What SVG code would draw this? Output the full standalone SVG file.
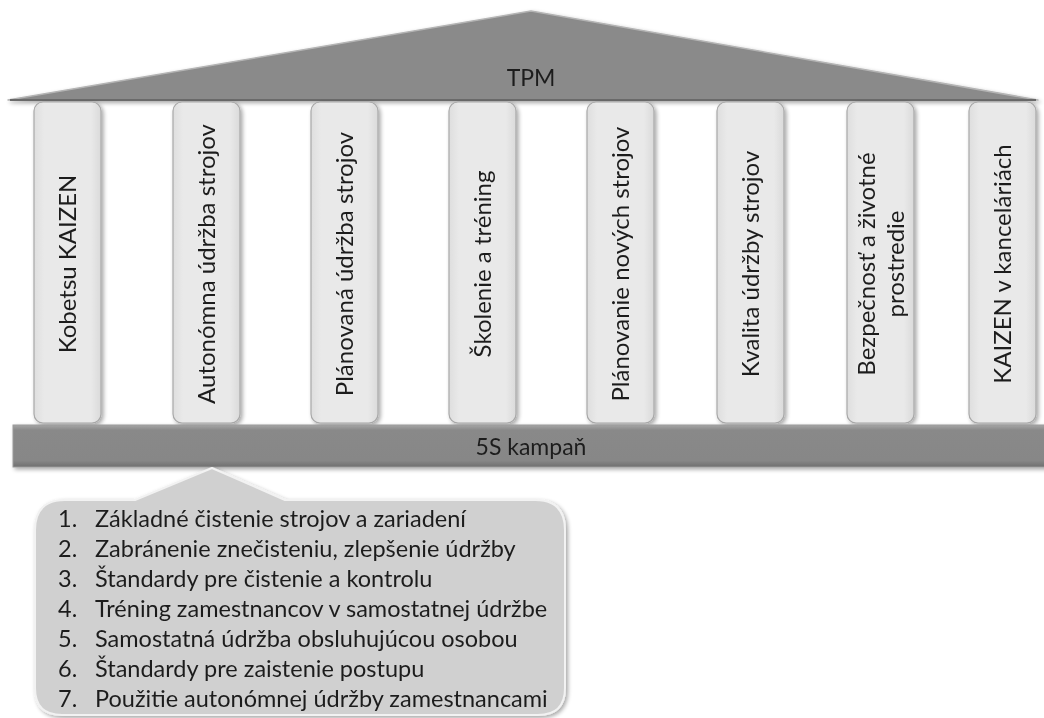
<svg xmlns="http://www.w3.org/2000/svg" width="1044" height="718" viewBox="0 0 1044 718">
  <defs>
    <filter id="shadow" x="-10%" y="-10%" width="130%" height="130%">
      <feGaussianBlur in="SourceAlpha" stdDeviation="2"/>
      <feOffset dx="1.5" dy="2" result="b"/>
      <feComponentTransfer><feFuncA type="linear" slope="0.35"/></feComponentTransfer>
      <feMerge><feMergeNode/><feMergeNode in="SourceGraphic"/></feMerge>
    </filter>
    <linearGradient id="pillarFill" x1="0" y1="0" x2="1" y2="0">
      <stop offset="0" stop-color="#dedede"/>
      <stop offset="0.15" stop-color="#e9e9e9"/>
      <stop offset="0.85" stop-color="#e9e9e9"/>
      <stop offset="1" stop-color="#dadada"/>
    </linearGradient>
    <linearGradient id="barFill" x1="0" y1="0" x2="0" y2="1">
      <stop offset="0" stop-color="#a6a6a6"/>
      <stop offset="0.12" stop-color="#898989"/>
      <stop offset="0.85" stop-color="#878787"/>
      <stop offset="1" stop-color="#6f6f6f"/>
    </linearGradient>
  </defs>
  <style>
    .pillar { fill: url(#pillarFill); stroke: #a8a8a8; stroke-width: 1.2; }
    .ptext { font-family: Lato, "Liberation Sans", sans-serif; font-size: 24px; fill: #1e1e1e; text-anchor: middle; }
    .label { font-family: Lato, "Liberation Sans", sans-serif; font-size: 23px; fill: #1e1e1e; text-anchor: middle; }
    .item { font-family: Lato, "Liberation Sans", sans-serif; font-size: 23.5px; fill: #1e1e1e; }
  </style>

  <rect width="1044" height="718" fill="#ffffff"/>

  <!-- roof -->
  <g id="roof" filter="url(#shadow)">
    <polygon points="8,100 531,11 1038,100" fill="#8a8a8a" stroke="#b4b4b4" stroke-width="1.5" stroke-linejoin="round"/>
    <line x1="10" y1="100" x2="1036" y2="100" stroke="#6a6a6a" stroke-width="2"/>
    <text class="label" x="531" y="86">TPM</text>
  </g>

  <!-- pillars -->
  <g id="pillar-1" filter="url(#shadow)">
    <rect class="pillar" x="34" y="102" width="67" height="321" rx="9"/>
    <text class="ptext" transform="translate(76,264) rotate(-90)">Kobetsu KAIZEN</text>
  </g>
  <g id="pillar-2" filter="url(#shadow)">
    <rect class="pillar" x="173" y="102" width="67" height="321" rx="9"/>
    <text class="ptext" transform="translate(215,264) rotate(-90)">Autonómna údržba strojov</text>
  </g>
  <g id="pillar-3" filter="url(#shadow)">
    <rect class="pillar" x="311" y="102" width="67" height="321" rx="9"/>
    <text class="ptext" transform="translate(353,264) rotate(-90)">Plánovaná údržba strojov</text>
  </g>
  <g id="pillar-4" filter="url(#shadow)">
    <rect class="pillar" x="449" y="102" width="67" height="321" rx="9"/>
    <text class="ptext" transform="translate(491,264) rotate(-90)">Školenie a tréning</text>
  </g>
  <g id="pillar-5" filter="url(#shadow)">
    <rect class="pillar" x="587" y="102" width="67" height="321" rx="9"/>
    <text class="ptext" transform="translate(629,264) rotate(-90)">Plánovanie nových strojov</text>
  </g>
  <g id="pillar-6" filter="url(#shadow)">
    <rect class="pillar" x="717" y="102" width="67" height="321" rx="9"/>
    <text class="ptext" transform="translate(759,264) rotate(-90)">Kvalita údržby strojov</text>
  </g>
  <g id="pillar-7" filter="url(#shadow)">
    <rect class="pillar" x="847" y="102" width="67" height="321" rx="9"/>
    <text class="ptext" transform="translate(875,264) rotate(-90)">Bezpečnosť a životné</text>
    <text class="ptext" transform="translate(904,264) rotate(-90)">prostredie</text>
  </g>
  <g id="pillar-8" filter="url(#shadow)">
    <rect class="pillar" x="969" y="102" width="67" height="321" rx="9"/>
    <text class="ptext" transform="translate(1011,264) rotate(-90)">KAIZEN v kanceláriách</text>
  </g>

  <!-- base -->
  <g id="base" filter="url(#shadow)">
    <rect x="13" y="425" width="1040" height="42" fill="url(#barFill)" stroke="#9a9a9a" stroke-width="1"/>
    <text class="label" x="531" y="455">5S kampaň</text>
  </g>

  <!-- callout with autonomous maintenance steps -->
  <g id="steps" filter="url(#shadow)">
    <path d="M35,530 Q35,500 65,500 L135,500 L212,468 L285,500 L535,500 Q565,500 565,530 L565,688 Q565,715 538,715 L62,715 Q35,715 35,688 Z" fill="#d0d0d0" stroke="#f2f2f2" stroke-width="2" stroke-linejoin="round"/>
    <g class="item">
      <text x="58" y="527">1.</text><text x="95" y="527">Základné čistenie strojov a zariadení</text>
      <text x="58" y="557">2.</text><text x="95" y="557">Zabránenie znečisteniu, zlepšenie údržby</text>
      <text x="58" y="587">3.</text><text x="95" y="587">Štandardy pre čistenie a kontrolu</text>
      <text x="58" y="617">4.</text><text x="95" y="617">Tréning zamestnancov v samostatnej údržbe</text>
      <text x="58" y="647">5.</text><text x="95" y="647">Samostatná údržba obsluhujúcou osobou</text>
      <text x="58" y="677">6.</text><text x="95" y="677">Štandardy pre zaistenie postupu</text>
      <text x="58" y="707">7.</text><text x="95" y="707">Použitie autonómnej údržby zamestnancami</text>
    </g>
  </g>
</svg>
